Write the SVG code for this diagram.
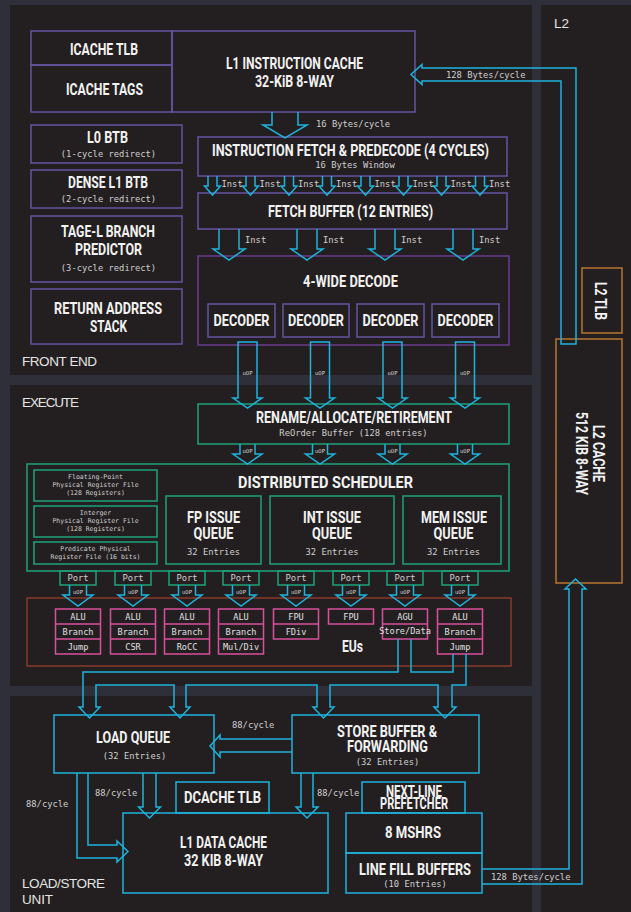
<svg xmlns="http://www.w3.org/2000/svg" width="631" height="912" viewBox="0 0 631 912">
<style>
.t{font-family:Roboto,"Liberation Sans",sans-serif;font-weight:700;fill:#f2f2f2;text-anchor:middle;font-size:16px}
.m{font-family:"DejaVu Sans Mono","Liberation Mono",monospace;fill:#cfcfcf;text-anchor:middle;font-size:8.8px}
.ms{font-family:"DejaVu Sans Mono","Liberation Mono",monospace;fill:#cfcfcf;font-size:8.8px}
.u{font-family:"DejaVu Sans Mono","Liberation Mono",monospace;fill:#d8d8d8;text-anchor:middle;font-size:5.5px}
.rf{font-family:"DejaVu Sans Mono","Liberation Mono",monospace;fill:#cfcfcf;text-anchor:middle;font-size:6.5px}
.eu{font-family:"DejaVu Sans Mono","Liberation Mono",monospace;fill:#e0e0e0;text-anchor:middle;font-size:8.6px}
.pl{font-family:"Liberation Sans",Arial,sans-serif;fill:#e4e4e4;font-size:13.5px}
.pu{fill:none;stroke:#6554a0;stroke-width:1.5}
.pd{fill:none;stroke:#6c3c8e;stroke-width:1.5}
.gr{fill:none;stroke:#1ea37a;stroke-width:1.5}
.pk{fill:none;stroke:#d9509a;stroke-width:1.5}
.br{fill:none;stroke:#8a3a2a;stroke-width:1.5}
.or{fill:none;stroke:#b8762e;stroke-width:1.5}
.cy{fill:none;stroke:#1fb3db;stroke-width:1.5}
.cb{fill:none;stroke:#1fb3db;stroke-width:1.5}
.panel{fill:#231f20}
</style>
<rect x="0" y="0" width="631" height="912" fill="#2f2f39"/>
<rect class="panel" x="10" y="5" width="522" height="370"/>
<rect class="panel" x="10" y="385" width="522" height="301"/>
<rect class="panel" x="10" y="696" width="522" height="216"/>
<rect class="panel" x="541" y="5" width="90" height="907"/>
<text class="pl" x="22" y="366" textLength="75">FRONT END</text>
<text class="pl" x="22" y="407" textLength="57">EXECUTE</text>
<text class="pl" x="22" y="888" textLength="83">LOAD/STORE</text>
<text class="pl" x="22" y="904" textLength="31">UNIT</text>
<text class="pl" x="554" y="28" textLength="15">L2</text>

<g id="icache-tlb"><rect class="pu" x="31" y="31" width="141" height="34"/><text class="t" x="104" y="55" textLength="68" lengthAdjust="spacingAndGlyphs">ICACHE TLB</text></g>
<g id="icache-tags"><rect class="pu" x="31" y="65" width="141" height="47"/><text class="t" x="104.5" y="95" textLength="77" lengthAdjust="spacingAndGlyphs">ICACHE TAGS</text></g>
<g id="l1-icache"><rect class="pu" x="172" y="31" width="243" height="81"/><text class="t" x="294.5" y="69" textLength="137" lengthAdjust="spacingAndGlyphs">L1 INSTRUCTION CACHE</text><text class="t" x="294.5" y="87" textLength="79" lengthAdjust="spacingAndGlyphs">32-KiB 8-WAY</text></g>
<g id="l0-btb"><rect class="pu" x="31" y="125" width="151" height="38"/><text class="t" x="107.5" y="143" textLength="41" lengthAdjust="spacingAndGlyphs">L0 BTB</text><text class="m" x="108.5" y="157">(1-cycle redirect)</text></g>
<g id="dense-l1-btb"><rect class="pu" x="31" y="170" width="151" height="38"/><text class="t" x="108" y="188" textLength="80" lengthAdjust="spacingAndGlyphs">DENSE L1 BTB</text><text class="m" x="108.5" y="202">(2-cycle redirect)</text></g>
<g id="tage"><rect class="pu" x="31" y="216" width="151" height="66"/><text class="t" x="108" y="237" textLength="94" lengthAdjust="spacingAndGlyphs">TAGE-L BRANCH</text><text class="t" x="108.5" y="255" textLength="67" lengthAdjust="spacingAndGlyphs">PREDICTOR</text><text class="m" x="108.5" y="271">(3-cycle redirect)</text></g>
<g id="ras"><rect class="pu" x="31" y="289" width="151" height="55"/><text class="t" x="108" y="314" textLength="108" lengthAdjust="spacingAndGlyphs">RETURN ADDRESS</text><text class="t" x="108.5" y="332" textLength="37" lengthAdjust="spacingAndGlyphs">STACK</text></g>
<g id="fetch"><rect class="pu" x="198" y="137" width="309" height="39"/><text class="t" x="350.5" y="156" font-size="15" textLength="277" lengthAdjust="spacingAndGlyphs">INSTRUCTION FETCH &amp; PREDECODE (4 CYCLES)</text><text class="m" x="355" y="168" font-size="8.5">16 Bytes Window</text></g>
<g id="fetch-buffer"><rect class="pu" x="198" y="193" width="309" height="36"/><text class="t" x="350.5" y="217" textLength="165" lengthAdjust="spacingAndGlyphs">FETCH BUFFER (12 ENTRIES)</text></g>
<g id="decode"><rect class="pd" x="198" y="256" width="311" height="89"/><text class="t" x="350.5" y="287" textLength="95" lengthAdjust="spacingAndGlyphs">4-WIDE DECODE</text></g>
<g id="decoder-1"><rect class="pu" x="208" y="304" width="67" height="33"/><text class="t" x="241.5" y="326" textLength="56" lengthAdjust="spacingAndGlyphs">DECODER</text></g>
<g id="decoder-2"><rect class="pu" x="283" y="304" width="66" height="33"/><text class="t" x="316" y="326" textLength="56" lengthAdjust="spacingAndGlyphs">DECODER</text></g>
<g id="decoder-3"><rect class="pu" x="357" y="304" width="67" height="33"/><text class="t" x="390.5" y="326" textLength="56" lengthAdjust="spacingAndGlyphs">DECODER</text></g>
<g id="decoder-4"><rect class="pu" x="432" y="304" width="67" height="33"/><text class="t" x="465.5" y="326" textLength="56" lengthAdjust="spacingAndGlyphs">DECODER</text></g>

<g id="rename"><rect class="gr" x="198" y="404" width="311" height="40"/><text class="t" x="354" y="423" textLength="196" lengthAdjust="spacingAndGlyphs">RENAME/ALLOCATE/RETIREMENT</text><text class="m" x="353.5" y="436">ReOrder Buffer (128 entries)</text></g>
<g id="scheduler"><rect class="gr" x="27" y="464" width="482" height="107"/><text class="t" x="325.5" y="488" textLength="175" lengthAdjust="spacingAndGlyphs">DISTRIBUTED SCHEDULER</text></g>
<g id="fp-rf"><rect class="gr" x="34" y="470" width="123" height="31"/><text class="rf" x="95.5" y="479">Floating-Point</text><text class="rf" x="95.5" y="487">Physical Register File</text><text class="rf" x="95.5" y="495">(128 Registers)</text></g>
<g id="int-rf"><rect class="gr" x="34" y="506" width="123" height="31"/><text class="rf" x="95.5" y="515">Interger</text><text class="rf" x="95.5" y="523">Physical Register File</text><text class="rf" x="95.5" y="531">(128 Registers)</text></g>
<g id="pred-rf"><rect class="gr" x="34" y="542" width="123" height="22"/><text class="rf" x="95.5" y="551">Predicate Physical</text><text class="rf" x="95.5" y="559">Register File (16 bits)</text></g>
<g id="fp-iq"><rect class="gr" x="166" y="496" width="95" height="68"/><text class="t" x="213.5" y="523" textLength="53" lengthAdjust="spacingAndGlyphs">FP ISSUE</text><text class="t" x="213.5" y="539" textLength="40" lengthAdjust="spacingAndGlyphs">QUEUE</text><text class="m" x="213.5" y="555">32 Entries</text></g>
<g id="int-iq"><rect class="gr" x="270" y="496" width="124" height="68"/><text class="t" x="332" y="523" textLength="58" lengthAdjust="spacingAndGlyphs">INT ISSUE</text><text class="t" x="332" y="539" textLength="40" lengthAdjust="spacingAndGlyphs">QUEUE</text><text class="m" x="332" y="555">32 Entries</text></g>
<g id="mem-iq"><rect class="gr" x="403" y="496" width="98" height="68"/><text class="t" x="454" y="523" textLength="66" lengthAdjust="spacingAndGlyphs">MEM ISSUE</text><text class="t" x="453.5" y="539" textLength="40" lengthAdjust="spacingAndGlyphs">QUEUE</text><text class="m" x="453.5" y="555">32 Entries</text></g>
<g id="ports">
<rect class="gr" x="60" y="571" width="36" height="14"/><text class="m" x="78" y="581">Port</text>
<rect class="gr" x="115" y="571" width="36" height="14"/><text class="m" x="133" y="581">Port</text>
<rect class="gr" x="169" y="571" width="36" height="14"/><text class="m" x="187" y="581">Port</text>
<rect class="gr" x="223" y="571" width="36" height="14"/><text class="m" x="241" y="581">Port</text>
<rect class="gr" x="278" y="571" width="36" height="14"/><text class="m" x="296" y="581">Port</text>
<rect class="gr" x="333" y="571" width="36" height="14"/><text class="m" x="351" y="581">Port</text>
<rect class="gr" x="387" y="571" width="36" height="14"/><text class="m" x="405" y="581">Port</text>
<rect class="gr" x="442" y="571" width="36" height="14"/><text class="m" x="460" y="581">Port</text>
</g>
<g id="eus"><rect class="br" x="27" y="598" width="484" height="68"/><text class="t" x="352.5" y="652" font-size="15" textLength="21" lengthAdjust="spacingAndGlyphs">EUs</text></g>
<g id="eu-1"><rect class="pk" x="55.5" y="609" width="45" height="45"/><path class="pk" d="M55.5,624H100.5M55.5,639H100.5"/><text class="eu" x="78" y="619.5">ALU</text><text class="eu" x="78" y="634.5">Branch</text><text class="eu" x="78" y="649.5">Jump</text></g>
<g id="eu-2"><rect class="pk" x="110.5" y="609" width="45" height="45"/><path class="pk" d="M110.5,624H155.5M110.5,639H155.5"/><text class="eu" x="133" y="619.5">ALU</text><text class="eu" x="133" y="634.5">Branch</text><text class="eu" x="133" y="649.5">CSR</text></g>
<g id="eu-3"><rect class="pk" x="164.5" y="609" width="45" height="45"/><path class="pk" d="M164.5,624H209.5M164.5,639H209.5"/><text class="eu" x="187" y="619.5">ALU</text><text class="eu" x="187" y="634.5">Branch</text><text class="eu" x="187" y="649.5">RoCC</text></g>
<g id="eu-4"><rect class="pk" x="218.5" y="609" width="45" height="45"/><path class="pk" d="M218.5,624H263.5M218.5,639H263.5"/><text class="eu" x="241" y="619.5">ALU</text><text class="eu" x="241" y="634.5">Branch</text><text class="eu" x="241" y="649.5">Mul/Div</text></g>
<g id="eu-5"><rect class="pk" x="273.5" y="609" width="45" height="30"/><path class="pk" d="M273.5,624H318.5"/><text class="eu" x="296" y="619.5">FPU</text><text class="eu" x="296" y="634.5">FDiv</text></g>
<g id="eu-6"><rect class="pk" x="328.5" y="609" width="45" height="15"/><text class="eu" x="351" y="619.5">FPU</text></g>
<g id="eu-7"><rect class="pk" x="382.5" y="609" width="45" height="30"/><path class="pk" d="M382.5,624H427.5"/><text class="eu" x="405" y="619.5">AGU</text><text class="eu" x="405" y="634" font-size="6.3">Store/Data</text></g>
<g id="eu-8"><rect class="pk" x="437.5" y="609" width="45" height="45"/><path class="pk" d="M437.5,624H482.5M437.5,639H482.5"/><text class="eu" x="460" y="619.5">ALU</text><text class="eu" x="460" y="634.5">Branch</text><text class="eu" x="460" y="649.5">Jump</text></g>

<g id="load-queue"><rect class="cb" x="54" y="715" width="160" height="58"/><text class="t" x="133" y="743" textLength="74" lengthAdjust="spacingAndGlyphs">LOAD QUEUE</text><text class="m" x="134.5" y="759">(32 Entries)</text></g>
<g id="store-buffer"><rect class="cb" x="292" y="715" width="187" height="58"/><text class="t" x="387" y="736.5" font-size="14.5" textLength="100" lengthAdjust="spacingAndGlyphs">STORE BUFFER &amp;</text><text class="t" x="387.5" y="751.5" font-size="14.5" textLength="81" lengthAdjust="spacingAndGlyphs">FORWARDING</text><text class="m" x="387.5" y="765">(32 Entries)</text></g>
<g id="dcache-tlb"><rect class="cb" x="176" y="782" width="93" height="31"/><text class="t" x="222.5" y="803" textLength="77" lengthAdjust="spacingAndGlyphs">DCACHE TLB</text></g>
<g id="l1-dcache"><rect class="cb" x="123" y="813" width="205" height="80"/><text class="t" x="223.5" y="848" textLength="87" lengthAdjust="spacingAndGlyphs">L1 DATA CACHE</text><text class="t" x="223.5" y="866" textLength="79" lengthAdjust="spacingAndGlyphs">32 KIB 8-WAY</text></g>
<g id="prefetcher"><rect class="cb" x="362" y="782" width="103" height="31"/><text class="t" x="414" y="796.5" font-size="12" textLength="56" lengthAdjust="spacingAndGlyphs">NEXT-LINE</text><text class="t" x="414" y="809" font-size="12" textLength="68" lengthAdjust="spacingAndGlyphs">PREFETCHER</text></g>
<g id="mshrs"><rect class="cb" x="346" y="813" width="136" height="40"/><text class="t" x="413" y="838" textLength="56" lengthAdjust="spacingAndGlyphs">8 MSHRS</text></g>
<g id="lfb"><rect class="cb" x="346" y="853" width="136" height="40"/><text class="t" x="415" y="875" textLength="112" lengthAdjust="spacingAndGlyphs">LINE FILL BUFFERS</text><text class="m" x="415" y="887">(10 Entries)</text></g>

<g id="l2-tlb"><rect class="or" x="582" y="268" width="40" height="65"/><text class="t" transform="translate(595,301) rotate(90)" textLength="38" lengthAdjust="spacingAndGlyphs">L2 TLB</text></g>
<g id="l2-cache"><rect class="or" x="556" y="339" width="66" height="244"/><text class="t" transform="translate(593,453.5) rotate(90)" textLength="57" lengthAdjust="spacingAndGlyphs">L2 CACHE</text><text class="t" transform="translate(576,453.5) rotate(90)" textLength="83" lengthAdjust="spacingAndGlyphs">512 KIB 8-WAY</text></g>

<g id="connectors">
<path class="cy" d="M272,112V125H263L285,138L307,125H298V112"/>
<text class="ms" x="316" y="127">16 Bytes/cycle</text>
<path class="cy" d="M576,344V68H422V64.5L411,74.5L422,84.5V81H561V344Z"/>
<text class="ms" x="446" y="78">128 Bytes/cycle</text>
<path class="cy" d="M208,176V186H204.5L212.5,195L220.5,186H217V176M246,176V186H242.5L250.5,195L258.5,186H255V176M284.5,176V186H281L289,195L297,186H293.5V176M322.5,176V186H319L327,195L335,186H331.5V176M361,176V186H357.5L365.5,195L373.5,186H370V176M399,176V186H395.5L403.5,195L411.5,186H408V176M437,176V186H433.5L441.5,195L449.5,186H446V176M475.5,176V186H472L480,195L488,186H484.5V176"/>
<g class="ms" font-size="8.3">
<text x="221.5" y="187">Inst</text><text x="259.5" y="187">Inst</text><text x="298" y="187">Inst</text><text x="336" y="187">Inst</text><text x="374.5" y="187">Inst</text><text x="412.5" y="187">Inst</text><text x="450.5" y="187">Inst</text><text x="489" y="187">Inst</text>
</g>
<path class="cy" d="M219,229V249H213L229,260L245,249H239V229M297,229V249H291L307,260L323,249H317V229M375,229V249H369L385,260L401,249H395V229M453,229V249H447L463,260L479,249H473V229"/>
<g class="ms" font-size="8.3">
<text x="245" y="243">Inst</text><text x="323" y="243">Inst</text><text x="401" y="243">Inst</text><text x="479" y="243">Inst</text>
</g>
<path class="cy" d="M238,342V398H233L247.5,408L262,398H257V342ZM310.5,342V398H305.5L320,408L334.5,398H329.5V342ZM383,342V398H378L392.5,408L407,398H402V342ZM455.5,342V398H450.5L465,408L479.5,398H474.5V342Z"/>
<text class="u" x="247.5" y="375">uOP</text><text class="u" x="320" y="375">uOP</text><text class="u" x="392.5" y="375">uOP</text><text class="u" x="465" y="375">uOP</text>
<path class="cy" d="M240,444V454H233L247.5,464L262,454H255V444M312.5,444V454H305.5L320,464L334.5,454H327.5V444M385,444V454H378L392.5,464L407,454H400V444M457.5,444V454H450.5L465,464L479.5,454H472.5V444"/>
<text class="u" x="247.5" y="453">uOP</text><text class="u" x="320" y="453">uOP</text><text class="u" x="392.5" y="453">uOP</text><text class="u" x="465" y="453">uOP</text>
<path class="cy" d="M69.5,585V595H63L78,606L93,595H86.5V585M124.5,585V595H118L133,606L148,595H141.5V585M178.5,585V595H172L187,606L202,595H195.5V585M232.5,585V595H226L241,606L256,595H249.5V585M287.5,585V595H281L296,606L311,595H304.5V585M342.5,585V595H336L351,606L366,595H359.5V585M396.5,585V595H390L405,606L420,595H413.5V585M451.5,585V595H445L460,606L475,595H468.5V585"/>
<text class="u" x="78" y="594">uOP</text><text class="u" x="133" y="594">uOP</text><text class="u" x="187" y="594">uOP</text><text class="u" x="241" y="594">uOP</text><text class="u" x="296" y="594">uOP</text><text class="u" x="351" y="594">uOP</text><text class="u" x="405" y="594">uOP</text><text class="u" x="460" y="594">uOP</text>
<path class="cy" d="M398,639V672H83V707H79L89.5,718L100,707H96V685H174V707H170L180,718L190,707H186V685H317V707H313L323.5,718L334,707H330V685H438V707H434L445,718L456,707H452V685H466V654"/>
<path class="cy" d="M411,639V672H453V654"/>
<path class="cy" d="M292,739H220V735L210,746L220,757V752H292"/>
<text class="ms" x="232" y="728">88/cycle</text>
<path class="cy" d="M77,773V858H117V862L128,851.5L117,841V845H88V773"/>
<text class="ms" x="26" y="807">88/cycle</text>
<path class="cy" d="M143,773V807H138.5L149.5,818L160.5,807H156V773"/>
<text class="ms" x="95" y="796">88/cycle</text>
<path class="cy" d="M301,773V807H296L307,818L318,807H313V773"/>
<text class="ms" x="317" y="796">88/cycle</text>
<path class="cy" d="M482,869H569V589H565L575.5,579L586,589H582V884H482"/>
<text class="ms" x="491" y="880">128 Bytes/cycle</text>
</g>
</svg>
